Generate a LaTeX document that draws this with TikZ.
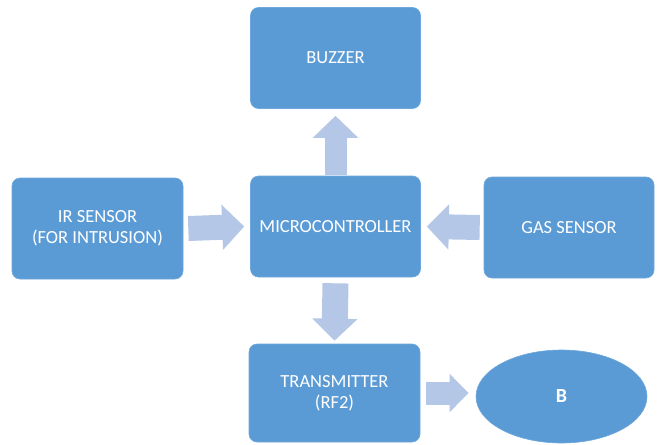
\documentclass[tikz,border=0pt]{standalone}
\usepackage{fontspec}
\setmainfont{Carlito}
\usetikzlibrary{arrows.meta,shapes.geometric}
\definecolor{boxblue}{HTML}{5B9BD5}
\definecolor{boxedge}{HTML}{6FA8DC}
\definecolor{arrowblue}{HTML}{B4C7E7}
\tikzset{
  blockbox/.style={rectangle, rounded corners=8pt, fill=boxblue, draw=boxedge, line width=0.6pt,
    minimum width=170pt, minimum height=101pt, inner sep=0pt, text=white, align=center,
    font=\fontsize{18.5}{21}\selectfont},
  ovalbox/.style={ellipse, fill=boxblue, draw=boxedge, line width=0.6pt,
    minimum width=171pt, minimum height=93pt, inner sep=0pt, text=white,
    font=\fontsize{20}{23}\selectfont\bfseries},
  bigarrow/.style={draw=arrowblue, line width=24pt,
    -{Triangle[length=22pt 0 0, width=44pt 0 0, fill=arrowblue]}}
}
\begin{document}
\begin{tikzpicture}[x=1pt,y=-1pt]
\useasboundingbox (0,0) rectangle (660,444);
\node[blockbox] (buzzer) at (335.5,58) {BUZZER};
\node[blockbox] (mc) at (335.5,226.5) {MICROCONTROLLER};
\node[blockbox, minimum width=171pt] (ir) at (97.5,228.5) {IR SENSOR\\(FOR INTRUSION)};
\node[blockbox] (gas) at (569,227.5) {GAS SENSOR};
\node[blockbox, minimum width=171pt, minimum height=98pt] (tx) at (334.5,393) {TRANSMITTER\\(RF2)};
\node[ovalbox] (b) at (561.5,396.5) {B};
\draw[bigarrow, line width=22pt] ([yshift=1pt]mc.north) -- ([yshift=-7pt]buzzer.south);
\draw[bigarrow, line width=25pt] ([xshift=5pt]ir.east) -- ([xshift=-6pt]mc.west);
\draw[bigarrow, line width=25pt] ([xshift=-4pt]gas.west) -- ([xshift=6pt]mc.east);
\draw[bigarrow, line width=26pt] ([yshift=-6pt]mc.south) -- ([yshift=3pt]tx.north);
\coordinate (bin) at ([xshift=-7pt]b.west |- tx.east);
\draw[bigarrow, line width=23pt, -{Triangle[length=19pt 0 0, width=37pt 0 0, fill=arrowblue]}] ([xshift=6pt]tx.east) -- (bin);
\end{tikzpicture}
\end{document}
